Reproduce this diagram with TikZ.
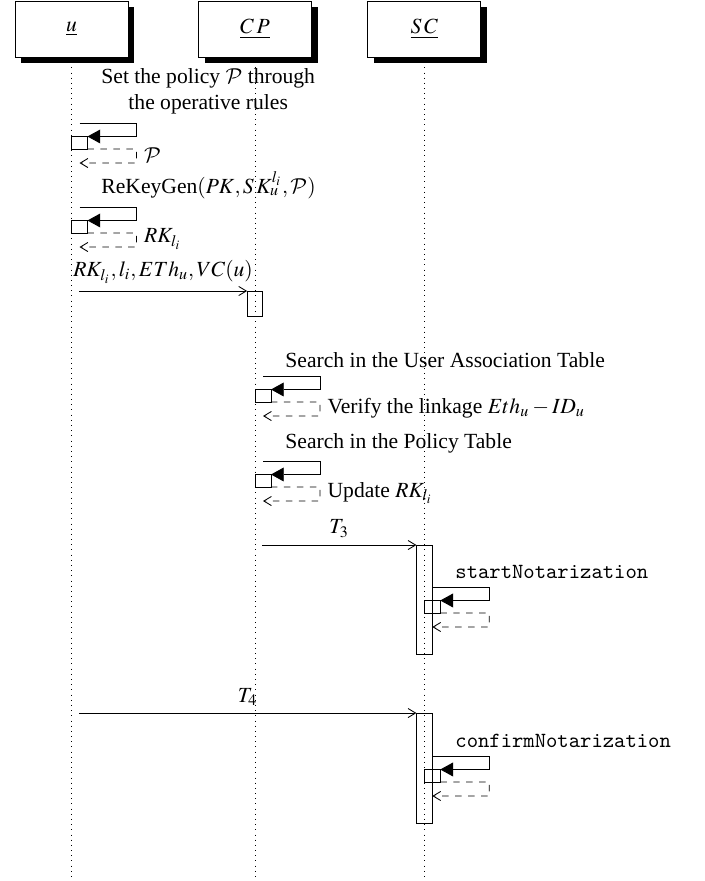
\documentclass[tikz,border=0pt]{standalone}
\usepackage{mathptmx}
\usepackage[no-math]{fontspec}
\setmainfont{Liberation Serif}
\DeclareMathAlphabet{\mathcm}{OMS}{cmsy}{m}{n}
\usetikzlibrary{arrows.meta,positioning,shadows}
\newcommand{\pxu}{0.463pt}
\newcommand{\selfloop}[3]{%
  \coordinate (#3-a) at (#1+8,#2);
  \coordinate (#3-b) at (#1+65,#2);
  \node[sbox] (#3-box) at (#1+8,#2+19.75) {};
  \coordinate (#3-c) at (#1+65,#2+26);
  \coordinate (#3-d) at (#1+65,#2+40);
  \coordinate (#3-e) at (#1+8,#2+40);
  \coordinate (#3-r) at (#1+65,#2+32);
  \draw[callarrow] (#3-a) -- (#3-b) |- (#3-box.north east);
  \draw[retarrow] (#3-box.south east) -- (#3-c) -- (#3-d) -- (#3-e);
}
\tikzset{
  inst/.style={draw,fill=white,minimum width=52.3pt,minimum height=25.9pt,inner sep=0pt,
    drop shadow={shadow xshift=2.8pt,shadow yshift=-2.8pt,fill=black,opacity=1}},
  lifeline/.style={dotted},
  actbar/.style={draw,inner sep=0pt,outer sep=0pt,minimum width=7.3pt},
  sbox/.style={draw,inner sep=0pt,outer sep=0pt,minimum width=7.4pt,minimum height=5.8pt},
  callarrow/.style={-{Triangle[length=5.9pt,width=6.4pt]}},
  retarrow/.style={dash pattern=on 3pt off 3pt,-{Straight Barb[length=3.5pt,width=4.2pt]}},
  msgarrow/.style={-{Straight Barb[length=3.5pt,width=4.2pt]}},
  calllbl/.style={anchor=base west,inner sep=0pt},
  retlbl/.style={inner sep=3.33pt},
}
\begin{document}
\begin{tikzpicture}[x=\pxu,y=-\pxu,font=\fontsize{10}{12}\selectfont]
\useasboundingbox (0,0) rectangle (705,881);
% instances and lifelines
\foreach \n/\x/\t in {u/71.5/u,cp/255/C\,P,sc/424.3/S\,C}{
  \coordinate (\n-end) at (\x,881);
  \draw[lifeline] (\x,57) -- (\n-end);
  \node[inst] (\n) at (\x,29) {$\underline{\t}$};
}
% user sets the policy
\node[calllbl,align=center] (c1) at (101,109) {Set the policy $\mathcm{P}$ through\\the operative rules};
\selfloop{71.5}{123}{l1}
\node[retlbl,right=0pt of l1-r] (r1) {$\mathcm{P}$};
\node[calllbl] (c2) at (101,193) {ReKeyGen$(PK,S\,K_u^{l_i},\mathcm{P})$};
\selfloop{71.5}{207}{l2}
\node[retlbl,right=0pt of l2-r] (r2) {$RK_{l_i}$};
% to CP
\node[actbar,minimum height=25*\pxu] (cp-act) at (255,303.5) {};
\coordinate (m1-s) at (79,291);
\draw[msgarrow] (m1-s) -- (cp-act.north west) node[midway,above] (m1) {$RK_{l_i}, l_i, ETh_u, VC(u)$};
\node[calllbl] (c3) at (285,367) {Search in the User Association Table};
\selfloop{255}{376}{l3}
\node[retlbl,right=0pt of l3-r] (r3) {Verify the linkage $Eth_u - ID_u$};
\node[calllbl] (c4) at (285,448) {Search in the Policy Table};
\selfloop{255}{461}{l4}
\node[retlbl,right=0pt of l4-r] (r4) {Update $RK_{l_i}$};
% to SC
\node[actbar,minimum height=109*\pxu] (sc-act1) at (424.3,599.5) {};
\coordinate (m2-s) at (262,545);
\draw[msgarrow] (m2-s) -- (sc-act1.north west) node[midway,above] (m2) {$T_3$};
\node[calllbl] (c5) at (455,578) {\texttt{startNotarization}};
\selfloop{424.3}{587}{l5}
\node[actbar,minimum height=110*\pxu] (sc-act2) at (424.3,768) {};
\coordinate (m3-s) at (79,713);
\draw[msgarrow] (m3-s) -- (sc-act2.north west) node[midway,above] (m3) {$T_4$};
\node[calllbl] (c6) at (455,747) {\texttt{confirmNotarization}};
\selfloop{424.3}{756}{l6}
\end{tikzpicture}
\end{document}
